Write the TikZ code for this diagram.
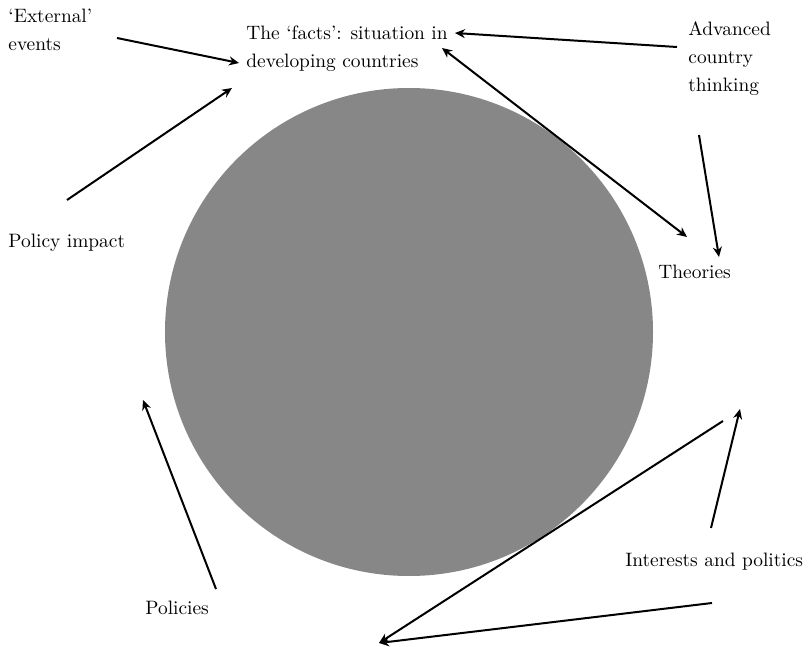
\documentclass[tikz,border=0pt]{standalone}
\usetikzlibrary{arrows.meta}
\tikzset{every node/.style={inner sep=0pt,align=left,anchor=west,font=\fontsize{9.7}{14}\selectfont}}
\tikzset{arr/.style={line width=1pt,-{Stealth[length=5pt,width=4.5pt]}}}
\definecolor{blob}{HTML}{878787}

\begin{document}
\begin{tikzpicture}[x=0.5pt,y=-0.5pt]
      \useasboundingbox (0,0) rectangle (810,647);
      \fill[blob] (409,332) circle (244);
      \node (ext) at (8,30) {`External'\\events};
      \node (facts) at (246,49) {The `facts': situation in\\developing countries};
      \node (adv) at (688,59) {Advanced\\country\\thinking};
      \node (theo) at (658,272) {Theories};
      \node (pimp) at (8,243) {Policy impact};
      \node (intp) at (625,562) {Interests and politics};
      \node (pol) at (145,608) {Policies};
      \coordinate (e1) at (117,38);  \coordinate (e2) at (239,63);
      \coordinate (p1) at (67,200);  \coordinate (p2) at (232,88);
      \coordinate (a1) at (677,47);  \coordinate (a2) at (455,33);
      \coordinate (f1) at (442,48);  \coordinate (t1) at (687,237);
      \coordinate (a3) at (699,135); \coordinate (t2) at (719,257);
      \coordinate (i1) at (711,528); \coordinate (i2) at (740,409);
      \coordinate (i3) at (723,421); \coordinate (i4) at (712,603);
      \coordinate (bt) at (379,643);
      \coordinate (q1) at (216,589); \coordinate (q2) at (143,400);
      \draw[arr] (e1) -- (e2);
      \draw[arr] (p1) -- (p2);
      \draw[arr] (a1) -- (a2);
      \draw[arr,{Stealth[length=5pt,width=4.5pt]}-{Stealth[length=5pt,width=4.5pt]}] (f1) -- (t1);
      \draw[arr] (a3) -- (t2);
      \draw[arr] (i1) -- (i2);
      \draw[arr] (i3) -- (bt);
      \draw[arr] (i4) -- (bt);
      \draw[arr] (q1) -- (q2);
    \end{tikzpicture}
\end{document}
